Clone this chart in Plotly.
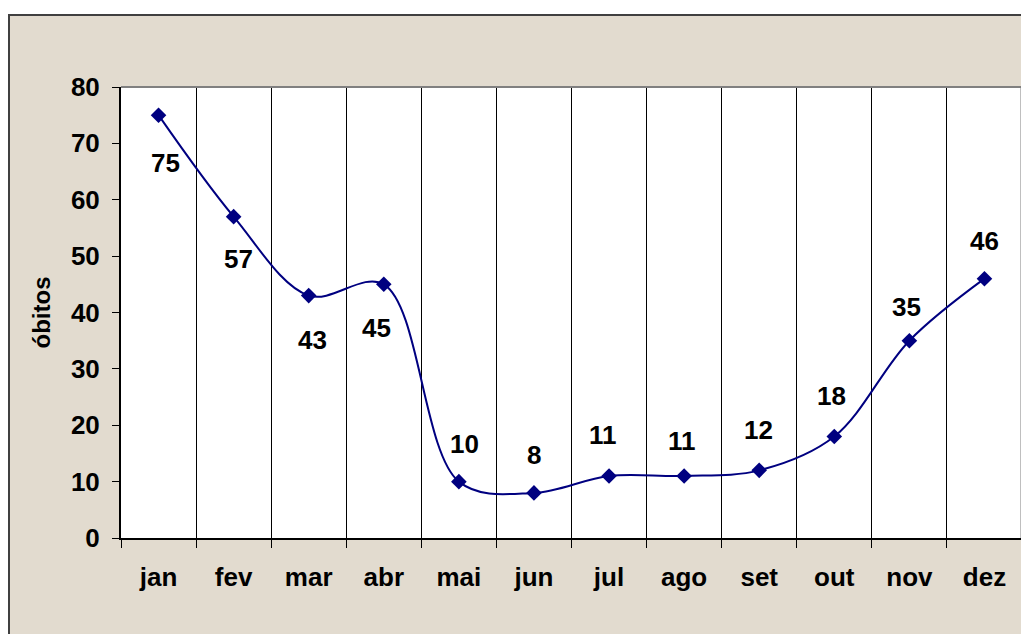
import plotly.graph_objects as go

months = ["jan", "fev", "mar", "abr", "mai", "jun", "jul", "ago", "set", "out", "nov", "dez"]
obitos = [75, 57, 43, 45, 10, 8, 11, 11, 12, 18, 35, 46]
# label offsets (px) relative to each point, styling only
label_dx = [7, 5, 4, -7, 6, 0, -6, -2, -1, -3, -3, 0]
label_dy = [-48, -42, -44, -44, 38, 38, 41, 35, 40, 41, 34, 38]
y_ticks = [0, 10, 20, 30, 40, 50, 60, 70, 80]

# page body has an 8px margin: figure coords = screen coords - 8
OFF = 8
W, H = 1029, 634
L, R, T, B = 121 - OFF, W - (1022 - OFF), 87 - OFF, H - (538 - OFF)
pw, ph = W - L - R, H - T - B

def px(x):
    return (x - L) / pw

def py(y):
    return 1 - (y - T) / ph

FONT = "Liberation Sans, Arial, sans-serif"
FS = 26
BEIGE = "#E2DBCF"

fig = go.Figure()
fig.add_trace(go.Scatter(
    x=months, y=obitos, mode="lines+markers",
    line=dict(color="#000080", width=2, shape="spline", smoothing=1.0),
    marker=dict(symbol="diamond", size=12, color="#000080"),
    hoverinfo="x+y", showlegend=False,
))

for m, v, dx, dy in zip(months, obitos, label_dx, label_dy):
    fig.add_annotation(x=m, y=v, text=str(v), showarrow=False,
                       xshift=dx, yshift=dy,
                       font=dict(family=FONT, size=FS, color="black", weight="bold"))

frame_top = 15 - OFF
shapes = [
    # white strip above the outer frame
    dict(type="rect", xref="paper", yref="paper", x0=px(-5), y0=py(frame_top), x1=px(W + 5), y1=py(-5),
         fillcolor="white", line=dict(width=0), layer="above"),
    # outer frame edges (left, top)
    dict(type="line", xref="paper", yref="paper", x0=px(1), y0=py(H + 5), x1=px(1), y1=py(frame_top),
         line=dict(color="#404040", width=2)),
    dict(type="line", xref="paper", yref="paper", x0=px(0), y0=py(frame_top), x1=px(W + 5), y1=py(frame_top),
         line=dict(color="#404040", width=2)),
    # plot border (top, right)
    dict(type="line", xref="paper", yref="paper", x0=0, y0=1, x1=1, y1=1,
         line=dict(color="#808080", width=2)),
    dict(type="line", xref="paper", yref="paper", x0=1, y0=0, x1=1, y1=1,
         line=dict(color="#808080", width=3)),
]

fig.update_layout(
    width=W, height=H,
    margin=dict(l=L, r=R, t=T, b=B, autoexpand=False),
    paper_bgcolor=BEIGE, plot_bgcolor="white",
    shapes=shapes,
    font=dict(family=FONT, color="black"),
    xaxis=dict(
        type="category", range=[-0.5, 11.5], automargin=False,
        tickson="boundaries", ticks="outside", ticklen=8, tickcolor="black", tickwidth=1,
        showgrid=True, gridcolor="black", gridwidth=1,
        showline=True, linecolor="black", linewidth=2,
        tickfont=dict(family=FONT, size=FS, color="black", weight="bold"),
        ticklabelstandoff=15,
        zeroline=False, fixedrange=True,
    ),
    yaxis=dict(
        range=[0, 80], tickvals=y_ticks, ticktext=[str(t) for t in y_ticks], automargin=False,
        ticks="outside", ticklen=7, tickcolor="black", tickwidth=1,
        showgrid=False, zeroline=False,
        showline=True, linecolor="black", linewidth=2,
        tickfont=dict(family=FONT, size=FS, color="black", weight="bold"),
        ticklabelstandoff=7,
        title=dict(text="óbitos", font=dict(family=FONT, size=FS - 2, color="black", weight="bold"),
                   standoff=13),
        fixedrange=True,
    ),
)

fig.write_html("out.html")
